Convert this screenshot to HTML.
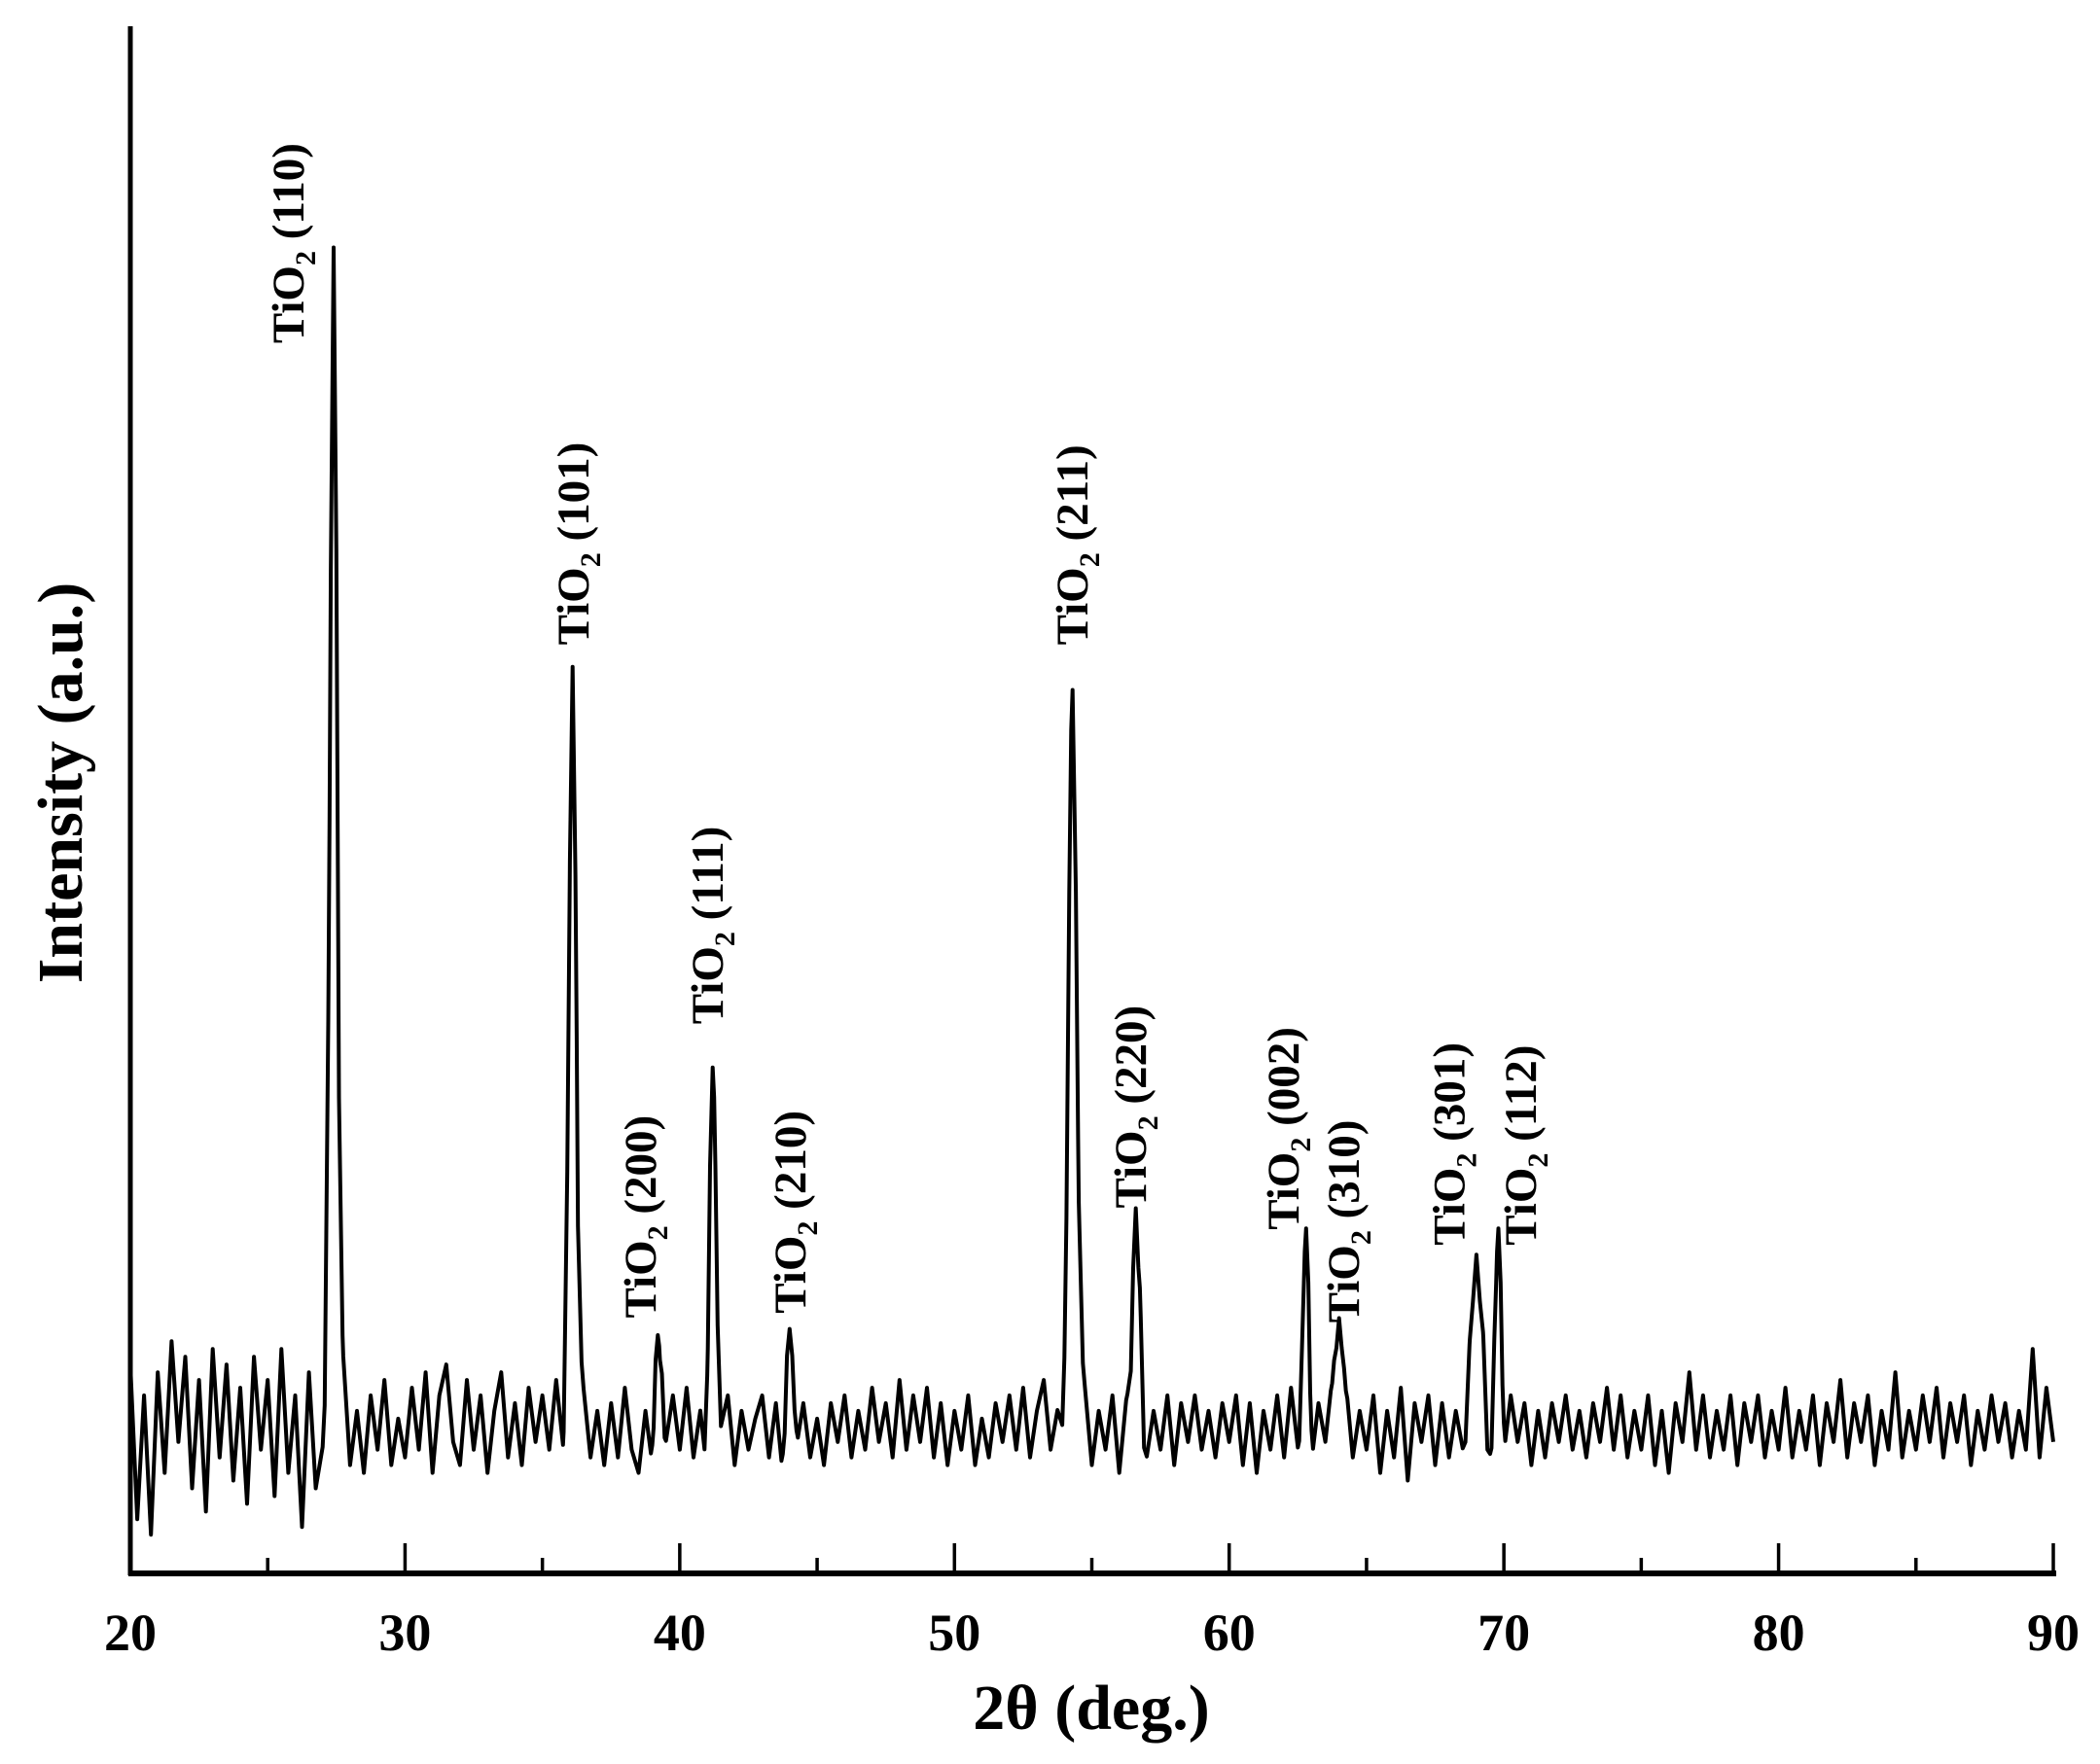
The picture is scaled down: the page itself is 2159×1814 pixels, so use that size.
<!DOCTYPE html>
<html><head><meta charset="utf-8"><style>
html,body{margin:0;padding:0;background:#fff;}
svg{display:block;}
text{font-family:"Liberation Serif",serif;font-weight:bold;fill:#000;}
</style></head><body>
<svg id="chart" width="2159" height="1814" viewBox="0 0 2159 1814" xmlns="http://www.w3.org/2000/svg">
<g id="plot"></g>
</svg>
<script>
const xTicks = [20,30,40,50,60,70,80,90];
const peakPos = [27.4,36.1,39.2,41.2,44.0,54.3,56.6,62.8,64.0,69.0,69.8];
const peakHeight = [762,491,59,232,63,476,141,128,70,111,128];
const peakWidth = [0.13,0.13,0.1,0.12,0.12,0.15,0.12,0.1,0.12,0.16,0.1];
const labelText = ["(110)","(101)","(200)","(111)","(210)","(211)","(220)","(002)","(310)","(301)","(112)"];
const labelX = [25.74,36.11,38.55,41.0,44.0,54.27,56.4,61.96,64.15,68.0,70.6];
const labelV = [795,600,165,355,168,600,236,222,162,212,212];
const background = 95;
const noiseStart = 20, noiseStep = 0.25;
const noise = [40,-60,20,-70,35,-30,55,-10,45,-40,30,-55,50,-20,40,-35,25,-50,45,-15,
30,-45,50,-30,20,-65,35,-40,-20,15,-35,25,-25,10,-30,20,-15,30,-25,5,
-20,25,-15,35,-30,20,40,-10,-25,30,-15,20,-30,10,35,-20,15,-25,25,-10,
20,-15,30,-25,5,-30,20,-20,10,-25,15,-20,25,-15,-30,10,-20,15,-10,20,
-15,25,-20,10,-25,15,-10,20,-25,10,-15,5,20,-20,15,-25,10,-10,15,-20,
5,-25,15,-10,20,-20,10,-15,25,-10,15,-20,30,-15,20,-10,25,-20,15,-25,
10,-15,20,-25,5,-20,15,-10,20,-15,25,-20,10,30,-15,10,-20,15,-10,20,
-25,10,-15,20,-30,15,-10,25,-20,10,-15,20,-25,15,-10,20,-15,10,-20,15,
-10,20,-25,15,-30,10,-15,20,-20,25,-15,10,-20,15,-10,20,-25,15,-20,10,
-15,20,-30,10,-20,25,-35,15,-10,20,-25,15,-20,10,-15,20,-10,25,-20,15,
-15,20,-10,15,-25,10,-20,15,-10,20,-15,10,-20,15,-10,25,-15,20,-20,10,
-15,20,-25,10,-30,15,-10,35,-15,20,-20,10,-15,20,-25,15,-10,20,-20,10,
-15,25,-20,10,-15,20,-25,15,-10,30,-20,15,-10,20,-25,10,-15,35,-20,10,
-15,20,-10,25,-20,15,-10,20,-25,10,-15,20,-10,15,-20,10,-15,50,-20,25,-10];

const X0=134, X1=2111, YB=1618, YT=27;
const xs = v => X0 + (v-20)/(90-20)*(X1-X0);
const ys = v => YB - v*1.591;
const NS="http://www.w3.org/2000/svg";
const g=document.getElementById('plot');
function mk(t,a){const e=document.createElementNS(NS,t);for(const k in a)e.setAttribute(k,a[k]);return e;}

function peaksAt(x){let s=0;for(let i=0;i<peakPos.length;i++){const d=(x-peakPos[i])/peakWidth[i];s+=peakHeight[i]*Math.exp(-0.5*d*d);}return s;}
function nearPeak(x){return peakPos.some((p,i)=>Math.abs(x-p)<peakWidth[i]*1.2);}
let xsList=[];
for(let i=0;i<noise.length;i++)xsList.push(noiseStart+i*noiseStep);
peakPos.forEach((p,i)=>{[-2.5,-1.5,-0.8,0,0.8,1.5,2.5].forEach(k=>xsList.push(p+k*peakWidth[i]));});
xsList.sort((a,b)=>a-b);
let pts=xsList.filter(x=>x>=20&&x<=90).map(x=>{const idx=Math.min(noise.length-1,Math.max(0,Math.round((x-noiseStart)/noiseStep)));const n=nearPeak(x)?0:noise[idx];const v=background+n+peaksAt(x);return xs(x).toFixed(1)+','+ys(v).toFixed(1);});
const line=mk('polyline',{points:pts.join(' '),fill:'none',stroke:'#000','stroke-width':4,'stroke-linejoin':'round'});


g.appendChild(line);

const yAxis=mk('line',{x1:X0,y1:YT,x2:X0,y2:YB+2,stroke:'#000','stroke-width':5});


g.appendChild(yAxis);
const xAxis=mk('line',{x1:X0-2,y1:YB,x2:X1+3,y2:YB,stroke:'#000','stroke-width':6});


g.appendChild(xAxis);
for(let v=20;v<=90;v+=5){
  const major=v%10===0;
  const t=mk('line',{x1:xs(v),x2:xs(v),y1:YB,y2:YB-(major?31:16),stroke:'#000','stroke-width':3.5});
  
  
  g.appendChild(t);
}
xTicks.forEach(v=>{
  const t=mk('text',{x:xs(v),y:1697,'text-anchor':'middle','font-size':54});
  t.textContent=v;
  
  
  g.appendChild(t);
});
const xt=mk('text',{x:1122,y:1778,'text-anchor':'middle','font-size':66});
xt.textContent='2θ (deg.)';


g.appendChild(xt);
const yt=mk('text',{x:0,y:0,'text-anchor':'middle','font-size':66,transform:'translate(84,805) rotate(-90)'});
yt.textContent='Intensity (a.u.)';


g.appendChild(yt);

labelText.forEach((s,i)=>{
  const cx=xs(labelX[i]), by=ys(labelV[i]);
  const t=mk('text',{x:0,y:0,'font-size':47,transform:`translate(${cx+16},${by}) rotate(-90)`});
  const a=mk('tspan',{});a.textContent='TiO';
  const b=mk('tspan',{'font-size':30,dy:12});b.textContent='2';
  const c=mk('tspan',{dy:-12});c.textContent=' '+s;
  t.appendChild(a);t.appendChild(b);t.appendChild(c);
  
  
  g.appendChild(t);
});
</script>
</body></html>
